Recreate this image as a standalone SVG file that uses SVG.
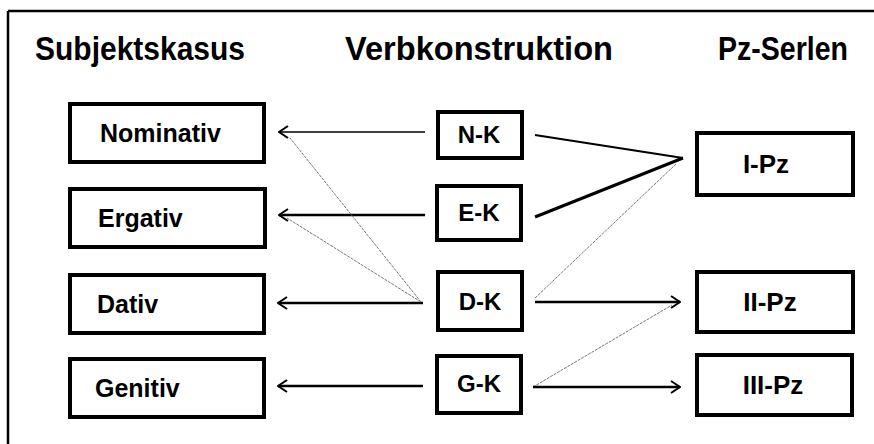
<svg xmlns="http://www.w3.org/2000/svg" width="874" height="444" viewBox="0 0 874 444">
<style>
.box{fill:#fff;stroke:#000;stroke-width:4}
.hd{font-family:"Liberation Sans",Arial,sans-serif;font-weight:bold;font-size:33px;fill:#000}
.lt{font-family:"Liberation Sans",Arial,sans-serif;font-weight:bold;font-size:25px;fill:#000}
.ct{font-family:"Liberation Sans",Arial,sans-serif;font-weight:bold;font-size:24px;fill:#000;text-anchor:middle}
.rt{font-family:"Liberation Sans",Arial,sans-serif;font-weight:bold;font-size:26px;fill:#000;text-anchor:middle}
.ar{stroke:#000;fill:none}
.gr{stroke:#777;stroke-width:1;fill:none;stroke-dasharray:3 1}
</style>
<defs>
<marker id="ah" viewBox="-11 -7 12 14" markerWidth="12" markerHeight="14" refX="0" refY="0" orient="auto" markerUnits="userSpaceOnUse">
<path d="M-9,-6 L0,0 L-9,6" fill="none" stroke="#000" stroke-width="2"/>
</marker>
</defs>
<g id="frame">
<line x1="8" y1="11" x2="874" y2="11" stroke="#000" stroke-width="2.5"/>
<line x1="8" y1="11" x2="8" y2="444" stroke="#000" stroke-width="2.5"/>
</g>
<g id="headings">
<text class="hd" x="35" y="60" textLength="210" lengthAdjust="spacingAndGlyphs">Subjektskasus</text>
<text class="hd" x="345" y="60" textLength="268" lengthAdjust="spacingAndGlyphs">Verbkonstruktion</text>
<text class="hd" x="718" y="60" textLength="130" lengthAdjust="spacingAndGlyphs">Pz-Serlen</text>
</g>
<g id="connectors">
<line class="ar" x1="425" y1="132" x2="279" y2="132" stroke-width="1.5" marker-end="url(#ah)"/>
<line class="ar" x1="425" y1="215" x2="279" y2="215" stroke-width="2.5" marker-end="url(#ah)"/>
<line class="ar" x1="423" y1="303" x2="278" y2="303" stroke-width="2.5" marker-end="url(#ah)"/>
<line class="ar" x1="423" y1="386" x2="278" y2="386" stroke-width="2.5" marker-end="url(#ah)"/>
<line class="gr" x1="421" y1="302" x2="290" y2="138"/>
<line class="gr" x1="421" y1="302" x2="287" y2="218"/>
<line class="ar" x1="535" y1="135" x2="683" y2="158" stroke-width="2"/>
<line class="ar" x1="535" y1="217" x2="683" y2="158" stroke-width="3"/>
<line class="gr" x1="535" y1="298" x2="676" y2="164"/>
<line class="ar" x1="535" y1="302" x2="680" y2="302" stroke-width="2.5" marker-end="url(#ah)"/>
<line class="gr" x1="533" y1="387" x2="672" y2="305"/>
<line class="ar" x1="533" y1="387" x2="680" y2="387" stroke-width="2.5" marker-end="url(#ah)"/>
</g>
<g id="nominativ"><rect class="box" x="70" y="104" width="194" height="58"/><text class="lt" x="100" y="142">Nominativ</text></g>
<g id="ergativ"><rect class="box" x="70" y="189" width="195" height="58"/><text class="lt" x="98" y="227">Ergativ</text></g>
<g id="dativ"><rect class="box" x="70" y="275" width="194" height="58"/><text class="lt" x="97" y="313">Dativ</text></g>
<g id="genitiv"><rect class="box" x="70" y="359" width="194" height="58"/><text class="lt" x="95" y="397">Genitiv</text></g>
<g id="nk"><rect class="box" x="438" y="112" width="84" height="46"/><text class="ct" x="479" y="143">N-K</text></g>
<g id="ek"><rect class="box" x="437" y="186" width="84" height="54"/><text class="ct" x="479" y="221">E-K</text></g>
<g id="dk"><rect class="box" x="438" y="272" width="84" height="58"/><text class="ct" x="480" y="310">D-K</text></g>
<g id="gk"><rect class="box" x="437" y="356" width="84" height="57"/><text class="ct" x="479" y="392">G-K</text></g>
<g id="ipz"><rect class="box" x="697" y="133" width="156" height="62"/><text class="rt" x="766" y="173">I-Pz</text></g>
<g id="iipz"><rect class="box" x="697" y="272" width="156" height="60"/><text class="rt" x="770" y="311">II-Pz</text></g>
<g id="iiipz"><rect class="box" x="697" y="355" width="155" height="60"/><text class="rt" x="773" y="394">III-Pz</text></g>
</svg>
